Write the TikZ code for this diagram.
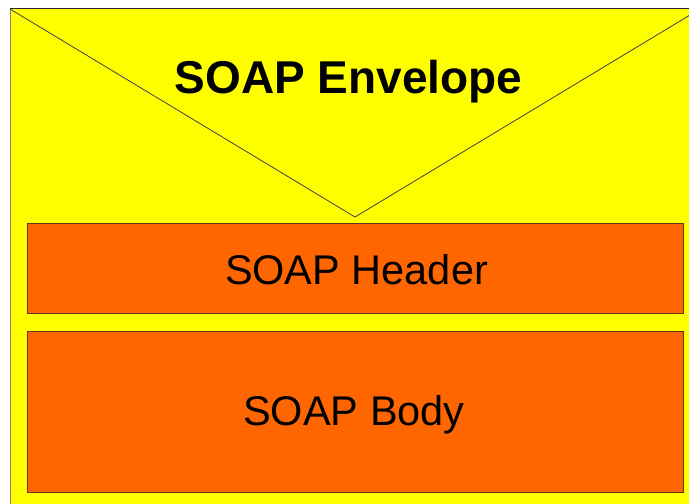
\documentclass[tikz,border=0pt]{standalone}
\usepackage{fontspec}
\setmainfont{Liberation Sans}
\definecolor{envyellow}{HTML}{FFFF00}
\definecolor{partorange}{HTML}{FF6600}
\definecolor{partedge}{HTML}{5A3A1E}
\begin{document}
\begin{tikzpicture}[x=1pt,y=-1pt,
  part/.style={draw=partedge,line width=0.9pt,fill=partorange,inner sep=0pt},
  flap/.style={draw=black!75,line width=0.8pt},
  label/.style={anchor=base,inner sep=0pt,text=black}]
  \useasboundingbox (0,0) rectangle (689,504);
  % envelope background
  \fill[envyellow] (10,8) rectangle (700,520);
  \draw[gray,line width=1pt] (10,8.5) -- (10,520);
  \draw[black!85,line width=1pt] (10,8.5) -- (700,8.5);
  % envelope flap
  \coordinate (fl) at (10,9);
  \coordinate (tip) at (355,217);
  \coordinate (fr) at (700,9);
  \draw[flap] (fl) -- (tip) -- (fr);
  % header and body
  \node[part,minimum width=656pt,minimum height=90pt] (header) at (355,268) {};
  \node[part,minimum width=656pt,minimum height=161pt] (body) at (355,411.5) {};
  % titles
  \node[label,font=\fontsize{46}{46}\selectfont\bfseries] (envtitle) at (348.5,93.5) {SOAP Envelope};
  \node[label,font=\fontsize{41.5}{41.5}\selectfont] (headtitle) at (356.5,284.5) {SOAP Header};
  \node[label,font=\fontsize{41.5}{41.5}\selectfont] (bodytitle) at (354,425.5) {SOAP Body};
\end{tikzpicture}
\end{document}
